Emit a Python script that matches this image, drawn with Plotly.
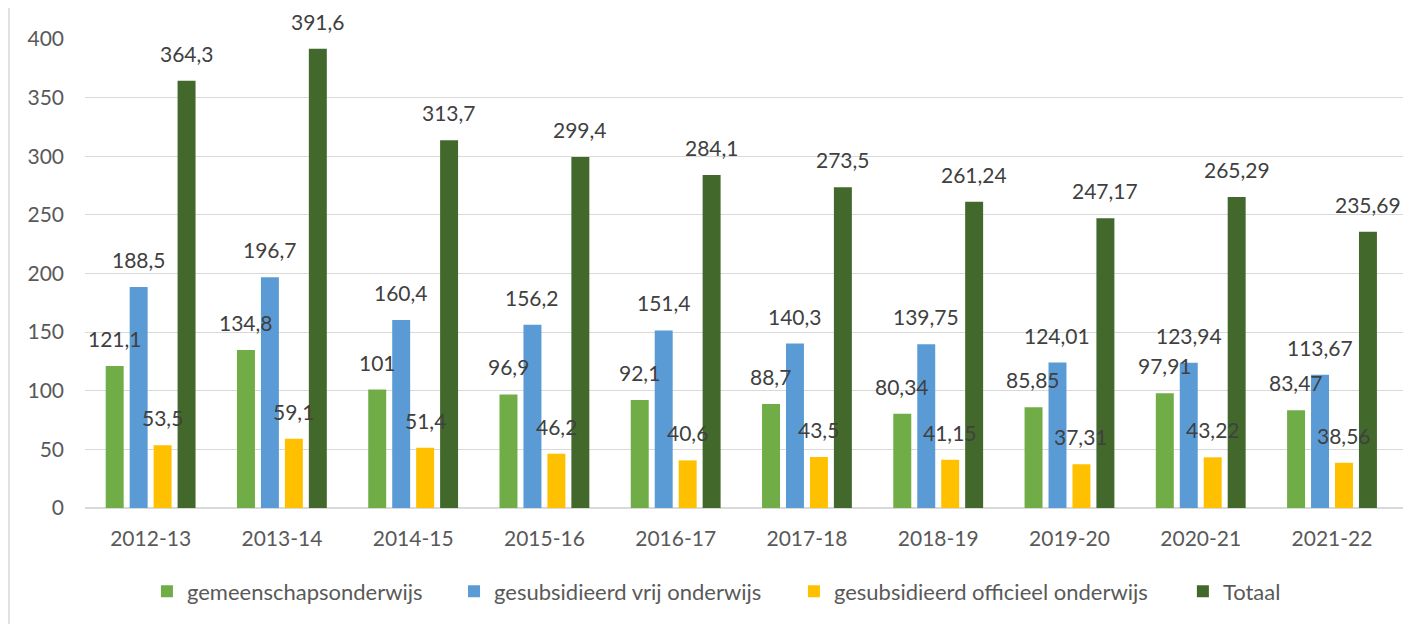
import plotly.graph_objects as go

categories = ["2012-13", "2013-14", "2014-15", "2015-16", "2016-17",
              "2017-18", "2018-19", "2019-20", "2020-21", "2021-22"]
gemeenschap = [121.1, 134.8, 101, 96.9, 92.1, 88.7, 80.34, 85.85, 97.91, 83.47]
vrij = [188.5, 196.7, 160.4, 156.2, 151.4, 140.3, 139.75, 124.01, 123.94, 113.67]
officieel = [53.5, 59.1, 51.4, 46.2, 40.6, 43.5, 41.15, 37.31, 43.22, 38.56]
totaal = [364.3, 391.6, 313.7, 299.4, 284.1, 273.5, 261.24, 247.17, 265.29, 235.69]

series_names = ["gemeenschapsonderwijs", "gesubsidieerd vrij onderwijs",
                "gesubsidieerd officieel onderwijs", "Totaal"]
series_values = [gemeenschap, vrij, officieel, totaal]
colors = ["#70AD47", "#5B9BD5", "#FFC000", "#43682B"]
legend_ids = ["legend", "legend2", "legend3", "legend4"]
legend_x = [0.0470, 0.2800, 0.5379, 0.8330]

FONT = "Lato"
fig = go.Figure()
for name, vals, col, lid in zip(series_names, series_values, colors, legend_ids):
    fig.add_trace(go.Bar(x=categories, y=vals, name=name, legend=lid,
                         marker=dict(color=col, line=dict(width=0))))

def fmt(v):
    return f"{v:g}".replace(".", ",")

slot = 24.0
annotations = []
for i, vals in enumerate(series_values):
    xs = (i - 1.5) * slot
    for c, v in zip(categories, vals):
        annotations.append(dict(x=c, y=v, xref="x", yref="y", text=fmt(v),
                                showarrow=False, xshift=xs, yshift=13,
                                yanchor="bottom", xanchor="center",
                                font=dict(family=FONT, size=21, color="#404040")))

legend_common = dict(orientation="h", yanchor="middle", y=-0.178, xanchor="left",
                     font=dict(family=FONT, size=22, color="#595959"),
                     itemwidth=30, bgcolor="rgba(0,0,0,0)")
layout_legends = {}
for lid, lx in zip(legend_ids, legend_x):
    layout_legends[lid] = dict(legend_common, x=lx)

fig.update_layout(
    width=1413, height=616,
    margin=dict(l=77, r=18, t=31, b=106),
    paper_bgcolor="white", plot_bgcolor="white",
    barmode="group", bargap=0.27, bargroupgap=0.25,
    font=dict(family=FONT, size=21, color="#595959"),
    showlegend=True,
    annotations=annotations,
    shapes=[dict(type="line", xref="paper", yref="paper",
                 x0=-0.0577, x1=-0.0577, y0=-1, y1=1.2,
                 line=dict(color="#D9D9D9", width=1.5))],
    **layout_legends,
)
fig.update_yaxes(range=[0, 400], dtick=50, showgrid=True, gridcolor="#D9D9D9",
                 gridwidth=1.3, zeroline=True, zerolinecolor="#D9D9D9", zerolinewidth=1.5,
                 showline=False, ticks="", ticklabelstandoff=20,
                 tickfont=dict(family=FONT, size=21, color="#595959"))
fig.update_xaxes(showline=False, ticks="", ticklabelstandoff=16,
                 tickfont=dict(family=FONT, size=21, color="#595959"))

fig.write_html("out.html")
